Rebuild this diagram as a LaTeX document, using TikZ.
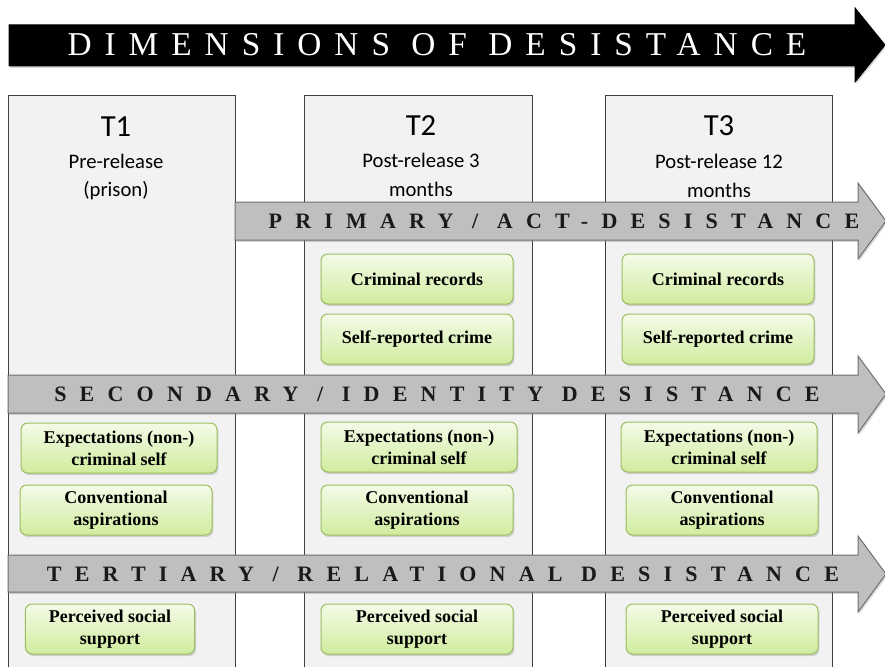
\documentclass[tikz,border=0pt]{standalone}
\usepackage{fontspec}
\setmainfont{Liberation Serif}
\newfontfamily\calibfont{Carlito}
\newfontfamily\titlefont[LetterSpace=39]{Liberation Serif}
\newfontfamily\bandfont[LetterSpace=60]{Liberation Serif Bold}
\usetikzlibrary{shadows}

\tikzset{every picture/.style={line width=0.75pt}}
\tikzset{
  colbox/.style={draw={rgb, 255:red, 64; green, 64; blue, 64 }, fill={rgb, 255:red, 242; green, 242; blue, 242 }},
  coltitle/.style={inner sep=0.75pt, font=\calibfont\fontsize{23}{27}\selectfont},
  colsub/.style={inner sep=0.75pt, align=center, font=\calibfont\fontsize{15.5}{21.5}\selectfont},
  titlearrow/.style={draw=black, fill=black, drop shadow={opacity=0.3, shadow xshift=1pt, shadow yshift=-1.5pt}},
  band/.style={draw={rgb, 255:red, 110; green, 110; blue, 110 }, fill={rgb, 255:red, 191; green, 191; blue, 191 }, drop shadow={opacity=0.3, shadow xshift=1pt, shadow yshift=-1.5pt}},
  bandtext/.style={inner sep=0.75pt, text={rgb, 255:red, 26; green, 26; blue, 26 }, font=\bandfont\fontsize{16.5}{18}\selectfont},
  greenbox/.style={draw={rgb, 255:red, 155; green, 190; blue, 95 }, rounded corners=5pt,
    top color={rgb, 255:red, 244; green, 251; blue, 232 }, bottom color={rgb, 255:red, 208; green, 236; blue, 158 },
    drop shadow={opacity=0.3, shadow xshift=1pt, shadow yshift=-1.5pt},
    minimum width=144pt, minimum height=37.5pt, align=center, inner sep=2pt,
    font=\bfseries\fontsize{13.5}{16.5}\selectfont}
}

\begin{document}
\begin{tikzpicture}[x=0.75pt,y=0.75pt,yscale=-1,xscale=1]
\path[use as bounding box] (0,0) rectangle (885,667);

%Shape: Column boxes
\draw[colbox] (8,96) rectangle (235,672);
\draw[colbox] (304,96) rectangle (532,672);
\draw[colbox] (605,96) rectangle (832,672);

% Column headers
\node[coltitle] (t1) at (116,127) {T1};
\node[colsub] (t1sub) at (116,177) {Pre-release\\(prison)};
\node[coltitle] (t2) at (421,126) {T2};
\node[colsub] (t2sub) at (421,175) {Post-release 3\\months};
\node[coltitle] (t3) at (719,126) {T3};
\node[colsub] (t3sub) at (719,176) {Post-release 12\\months};

%Shape: Title arrow
\draw[titlearrow] (9,25) -- (855,25) -- (855,8) -- (885,45) -- (855,82) -- (855,66) -- (9,66) -- cycle;
\node[inner sep=0.75pt, text=white, font=\titlefont\fontsize{25}{28}\selectfont] (title) at (437,45) {DIMENSIONS OF DESISTANCE};

%Shape: Primary band
\draw[band] (235,202) -- (858,202) -- (858,183) -- (886,221) -- (858,259) -- (858,240) -- (235,240) -- cycle;
\node[bandtext] (primary) at (564,221) {PRIMARY / ACT-DESISTANCE};

%Shape: Secondary band
\draw[band] (8,375) -- (858,375) -- (858,356) -- (886,394) -- (858,433) -- (858,413) -- (8,413) -- cycle;
\node[bandtext] (secondary) at (437,394) {SECONDARY / IDENTITY DESISTANCE};

%Shape: Tertiary band
\draw[band] (8,555) -- (858,555) -- (858,536) -- (886,574) -- (858,612) -- (858,592) -- (8,592) -- cycle;
\node[bandtext] (tertiary) at (443,574) {TERTIARY / RELATIONAL DESISTANCE};

% Primary measures
\node[greenbox] (crim2) at (417,279) {Criminal records};
\node[greenbox] (self2) at (417,339) {Self-reported crime};
\node[greenbox] (crim3) at (718,279) {Criminal records};
\node[greenbox] (self3) at (718,339) {Self-reported crime};

% Secondary measures
\node[greenbox, minimum width=147pt] (exp1) at (119,448) {Expectations (non-)\\criminal self};
\node[greenbox, minimum width=147pt] (exp2) at (419,447) {Expectations (non-)\\criminal self};
\node[greenbox, minimum width=147pt] (exp3) at (719,447) {Expectations (non-)\\criminal self};
\node[greenbox] (conv1) at (116,510) {Conventional\\aspirations};
\node[greenbox] (conv2) at (417,510) {Conventional\\aspirations};
\node[greenbox] (conv3) at (722,510) {Conventional\\aspirations};

% Tertiary measures
\node[greenbox, minimum width=127pt] (perc1) at (110,629) {Perceived social\\support};
\node[greenbox] (perc2) at (417,629) {Perceived social\\support};
\node[greenbox] (perc3) at (722,629) {Perceived social\\support};

\end{tikzpicture}
\end{document}
